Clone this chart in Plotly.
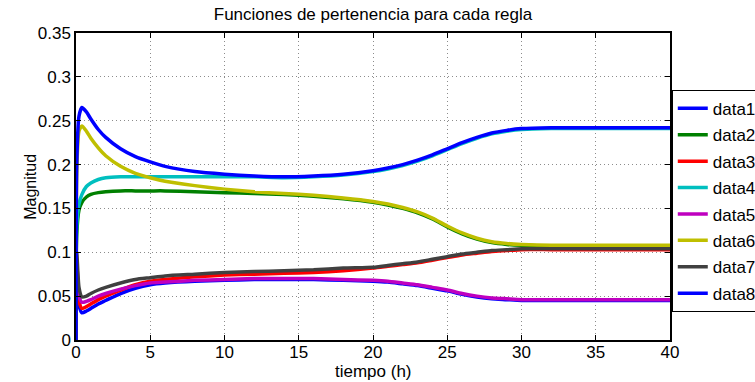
import plotly.graph_objects as go

# Time grid (hours)
t = [0, 0.05, 0.2, 0.4, 0.7, 1, 1.5, 2, 3, 4, 5, 6, 8, 10, 12, 14, 16, 18,
     20, 21, 22, 23, 24, 25, 26, 27, 28, 29, 30, 32, 35, 40]

data1 = [0, 0.085, 0.040, 0.031, 0.033, 0.036, 0.041, 0.045, 0.053, 0.059, 0.063, 0.065,
         0.067, 0.068, 0.069, 0.069, 0.069, 0.068, 0.067, 0.066, 0.064, 0.062, 0.059,
         0.056, 0.052, 0.049, 0.047, 0.046, 0.045, 0.045, 0.045, 0.045]
data2 = [0, 0.120, 0.148, 0.157, 0.163, 0.166, 0.168, 0.169, 0.170, 0.170, 0.170, 0.170,
         0.169, 0.168, 0.167, 0.166, 0.164, 0.161, 0.157, 0.154, 0.150, 0.145, 0.138,
         0.129, 0.121, 0.115, 0.111, 0.109, 0.108, 0.107, 0.107, 0.107]
data3 = [0, 0.090, 0.045, 0.036, 0.038, 0.041, 0.046, 0.050, 0.057, 0.063, 0.067, 0.069,
         0.072, 0.074, 0.075, 0.076, 0.077, 0.079, 0.082, 0.084, 0.086, 0.088, 0.091,
         0.094, 0.097, 0.099, 0.101, 0.102, 0.103, 0.103, 0.103, 0.103]
data4 = [0, 0.130, 0.155, 0.166, 0.175, 0.179, 0.183, 0.185, 0.186, 0.186, 0.186, 0.186,
         0.186, 0.186, 0.186, 0.185, 0.186, 0.188, 0.192, 0.195, 0.199, 0.204, 0.210,
         0.217, 0.224, 0.230, 0.235, 0.238, 0.240, 0.241, 0.241, 0.241]
data5 = [0, 0.090, 0.050, 0.043, 0.044, 0.046, 0.050, 0.053, 0.058, 0.062, 0.065, 0.066,
         0.068, 0.069, 0.070, 0.070, 0.070, 0.069, 0.068, 0.067, 0.065, 0.063, 0.060,
         0.057, 0.053, 0.050, 0.048, 0.047, 0.046, 0.046, 0.046, 0.046]
data6 = [0, 0.190, 0.238, 0.244, 0.238, 0.230, 0.219, 0.210, 0.198, 0.190, 0.185, 0.181,
         0.176, 0.172, 0.169, 0.167, 0.165, 0.162, 0.158, 0.155, 0.151, 0.146, 0.139,
         0.130, 0.122, 0.116, 0.112, 0.110, 0.109, 0.108, 0.108, 0.108]
data7 = [0, 0.100, 0.060, 0.049, 0.050, 0.053, 0.057, 0.060, 0.065, 0.069, 0.071, 0.073,
         0.075, 0.077, 0.078, 0.079, 0.080, 0.082, 0.083, 0.085, 0.087, 0.089, 0.092,
         0.095, 0.098, 0.100, 0.102, 0.103, 0.104, 0.104, 0.104, 0.104]
data8 = [0, 0.200, 0.255, 0.265, 0.260, 0.252, 0.240, 0.231, 0.218, 0.209, 0.203, 0.198,
         0.192, 0.189, 0.187, 0.186, 0.187, 0.189, 0.193, 0.196, 0.200, 0.205, 0.211,
         0.218, 0.225, 0.231, 0.236, 0.239, 0.241, 0.242, 0.242, 0.242]

series = [data1, data2, data3, data4, data5, data6, data7, data8]
names = ["data1", "data2", "data3", "data4", "data5", "data6", "data7", "data8"]
colors = ["#0000ff", "#008000", "#ff0000", "#00bfbf",
          "#bf00bf", "#bfbf00", "#404040", "#0000ff"]

FONT = "Liberation Sans, Arial, sans-serif"

fig = go.Figure()
for name, ys, c in zip(names, series, colors):
    fig.add_trace(go.Scatter(x=t, y=ys, name=name, mode="lines", legendgroup=name,
                             line=dict(color=c, width=3.5, shape="spline", smoothing=0.6)))

axis_common = dict(showline=True, linecolor="black", linewidth=1.5, mirror="ticks",
                   ticks="inside", ticklen=5, tickcolor="black",
                   showgrid=True, gridcolor="#8c8c8c", griddash="1px,3px", gridwidth=1,
                   zeroline=False, tickfont=dict(family=FONT, size=17, color="black"))

fig.update_layout(
    width=755, height=382,
    margin=dict(l=76, r=85, t=33, b=42, autoexpand=False),
    paper_bgcolor="white", plot_bgcolor="white",
    title=dict(text="Funciones de pertenencia para cada regla", x=0.5, xref="paper",
               y=0.963, yanchor="middle",
               font=dict(family=FONT, size=17, color="black")),
    xaxis=dict(range=[0, 40], tickvals=[0, 5, 10, 15, 20, 25, 30, 35, 40],
               ticklabelstandoff=-4, **axis_common),
    yaxis=dict(range=[0, 0.35], tickvals=[0, 0.05, 0.1, 0.15, 0.2, 0.25, 0.3, 0.35],
               ticktext=["0", "0.05", "0.1", "0.15", "0.2", "0.25", "0.3", "0.35"],
               **axis_common),
    legend=dict(x=1.003, xanchor="left", y=0.815, yanchor="top",
                bgcolor="white", bordercolor="black", borderwidth=1,
                font=dict(family=FONT, size=17, color="black"),
                itemwidth=30, tracegroupgap=1.3),
    showlegend=True,
)

# Axis labels placed as annotations so they sit close to the tick labels
fig.add_annotation(text="tiempo (h)", xref="paper", yref="paper", x=0.5, y=-0.102,
                   xanchor="center", yanchor="middle", showarrow=False,
                   font=dict(family=FONT, size=17, color="black"))
fig.add_annotation(text="Magnitud", xref="paper", yref="paper", x=-0.077, y=0.5,
                   xanchor="center", yanchor="middle", textangle=-90, showarrow=False,
                   font=dict(family=FONT, size=16, color="black"))

fig.write_html("out.html")
